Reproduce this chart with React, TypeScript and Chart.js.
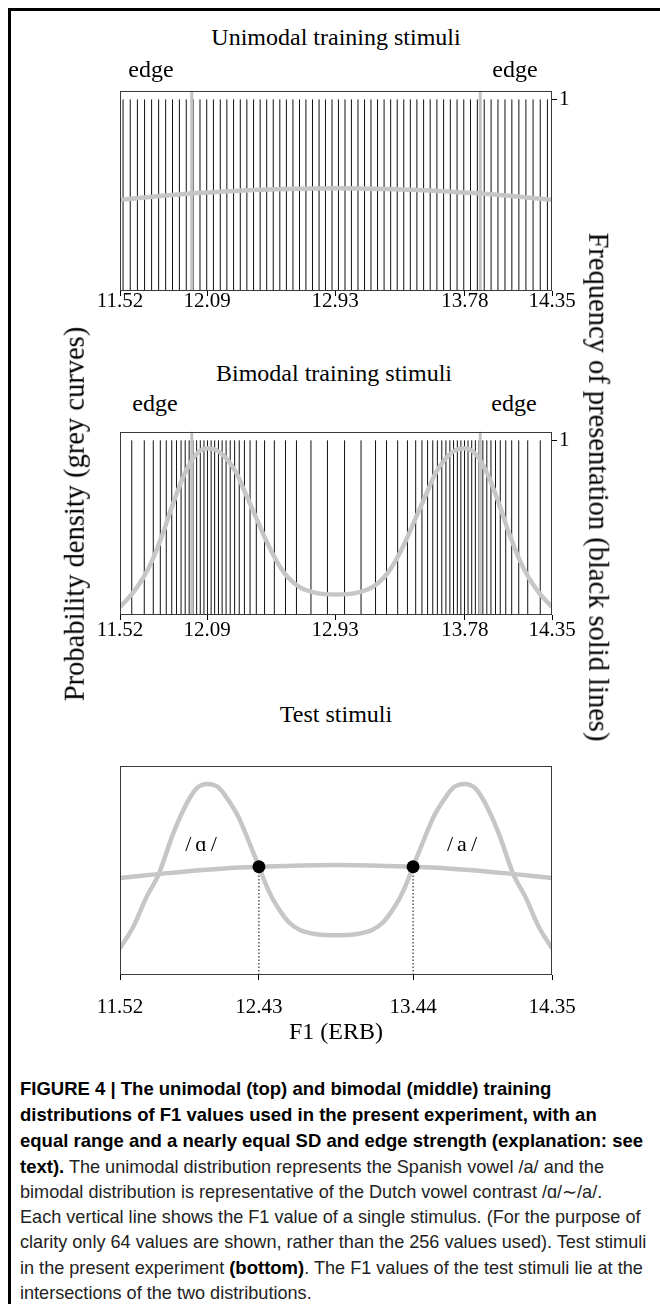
import React, { useEffect, useRef } from "react";
import { Chart, registerables } from "chart.js";

Chart.register(...registerables);

// ---------- data ----------
const X_MIN = 11.52;
const X_MAX = 14.35;
const trainingTicks = [11.52, 12.09, 12.93, 13.78, 14.35];
const trainingTickLabels = ["11.52", "12.09", "12.93", "13.78", "14.35"];
const testTicks = [11.52, 12.43, 13.44, 14.35];
const testTickLabels = ["11.52", "12.43", "13.44", "14.35"];
const frequencyTicks = [1];
const frequencyTickLabels = ["1"];
const edgeValues = [11.99, 13.88];

const unimodalStimuli = [
  11.54, 11.587, 11.634, 11.681, 11.727, 11.773, 11.819, 11.864, 11.909, 11.954, 11.999, 12.044, 12.088, 12.132, 12.177, 12.22,
  12.264, 12.308, 12.351, 12.395, 12.438, 12.481, 12.524, 12.567, 12.61, 12.653, 12.696, 12.738, 12.781, 12.824, 12.866, 12.909,
  12.951, 12.994, 13.036, 13.079, 13.122, 13.164, 13.207, 13.25, 13.293, 13.336, 13.379, 13.422, 13.465, 13.509, 13.552, 13.596,
  13.64, 13.684, 13.728, 13.772, 13.816, 13.861, 13.906, 13.951, 13.996, 14.042, 14.087, 14.133, 14.179, 14.226, 14.273, 14.32,
];

const bimodalStimuli = [
  11.597, 11.679, 11.738, 11.784, 11.823, 11.859, 11.89, 11.92, 11.947, 11.973, 11.998, 12.022, 12.046, 12.07, 12.093, 12.117,
  12.14, 12.165, 12.189, 12.215, 12.242, 12.271, 12.301, 12.335, 12.372, 12.413, 12.467, 12.531, 12.604, 12.676, 12.771, 12.879,
  12.991, 13.099, 13.194, 13.266, 13.339, 13.403, 13.457, 13.498, 13.535, 13.569, 13.599, 13.628, 13.655, 13.681, 13.705, 13.73,
  13.753, 13.777, 13.8, 13.824, 13.848, 13.872, 13.897, 13.923, 13.95, 13.98, 14.011, 14.047, 14.086, 14.132, 14.191, 14.273,
];

const uniCurveX = [11.52, 11.8, 12.0, 12.2, 12.4, 12.6, 12.935, 13.27, 13.47, 13.67, 13.87, 14.07, 14.35];
const uniCurveY = [0.476, 0.497, 0.51, 0.519, 0.527, 0.532, 0.536, 0.532, 0.527, 0.519, 0.51, 0.497, 0.476];

const biCurveX = [
  11.52, 11.599, 11.673, 11.738, 11.804, 11.869, 11.935, 11.99, 12.044, 12.098, 12.153, 12.219, 12.284, 12.35, 12.416, 12.481,
  12.547, 12.612, 12.699, 12.809, 12.935, 13.061, 13.171, 13.258, 13.323, 13.389, 13.454, 13.52, 13.586, 13.651, 13.717, 13.772,
  13.826, 13.88, 13.935, 14.001, 14.066, 14.132, 14.197, 14.271, 14.35,
];
const biCurveY = [
  0.046, 0.121, 0.214, 0.326, 0.475, 0.642, 0.792, 0.885, 0.94, 0.955, 0.944, 0.894, 0.81, 0.68, 0.549, 0.419,
  0.307, 0.223, 0.158, 0.125, 0.117, 0.125, 0.158, 0.223, 0.307, 0.419, 0.549, 0.68, 0.81, 0.894, 0.944, 0.955,
  0.94, 0.885, 0.792, 0.642, 0.475, 0.326, 0.214, 0.121, 0.046,
];

const testUniCurveX = [11.52, 11.8, 12.0, 12.2, 12.43, 12.6, 12.935, 13.27, 13.44, 13.67, 13.87, 14.07, 14.35];
const testUniCurveY = [0.464, 0.485, 0.499, 0.51, 0.518, 0.522, 0.526, 0.522, 0.518, 0.51, 0.499, 0.485, 0.464];

const testBiCurveX = [
  11.52, 11.607, 11.695, 11.771, 11.869, 11.957, 12.022, 12.092, 12.164, 12.229, 12.295, 12.36, 12.43, 12.491, 12.557, 12.623,
  12.699, 12.809, 12.935, 13.061, 13.171, 13.247, 13.313, 13.379, 13.44, 13.51, 13.575, 13.641, 13.706, 13.778, 13.848, 13.913,
  14.001, 14.099, 14.175, 14.263, 14.35,
];
const testBiCurveY = [
  0.128, 0.231, 0.375, 0.478, 0.678, 0.821, 0.893, 0.914, 0.898, 0.837, 0.757, 0.646, 0.518, 0.407, 0.319, 0.255,
  0.215, 0.195, 0.19, 0.195, 0.215, 0.255, 0.319, 0.407, 0.518, 0.646, 0.757, 0.837, 0.898, 0.914, 0.893, 0.821,
  0.678, 0.478, 0.375, 0.231, 0.128,
];

const testStimuli = [12.43, 13.44];
const testStimuliDensity = [0.518, 0.518];

// ---------- helpers ----------
const SERIF = "'Liberation Serif', 'Times New Roman', serif";
const CURVE_GREY = "#c6c6c6";
const EDGE_GREY = "#c2c2c2";

const toPoints = (xs: number[], ys: number[]) => xs.map((x, i) => ({ x, y: ys[i] }));
const verticals = (xs: number[], tops: number[]) =>
  xs.flatMap((x, i) => [
    { x, y: 0 },
    { x, y: tops[i] },
    { x, y: null as any },
  ]);

const framePlugin = {
  id: "frame",
  afterDatasetsDraw(chart: any) {
    const { ctx, chartArea: a } = chart;
    ctx.save();
    ctx.strokeStyle = "#3a3a3a";
    ctx.lineWidth = 1;
    ctx.strokeRect(Math.round(a.left) + 0.5, Math.round(a.top) + 0.5, Math.round(a.right - a.left) - 1, Math.round(a.bottom - a.top) - 1);
    ctx.restore();
  },
};

const CANVAS_W = 660;
const PLOT_LEFT = 120;
const PLOT_RIGHT = 552;
const X_AXIS_H = 50;
const Y_AXIS_W = 28;

type PlotSpec = {
  chartTop: number;
  chartBottom: number;
  yMax: number;
  ticks: number[];
  tickLabels: string[];
  labelPadding: number;
  showFrequency: boolean;
  datasets: any[];
};

function buildConfig(spec: PlotSpec) {
  const rightAxisW = spec.showFrequency ? Y_AXIS_W : 0;
  return {
    type: "line" as const,
    data: { datasets: spec.datasets },
    plugins: [framePlugin],
    options: {
      animation: false as const,
      responsive: false,
      devicePixelRatio: 1,
      events: [],
      layout: {
        padding: { left: PLOT_LEFT, right: CANVAS_W - PLOT_RIGHT - rightAxisW, top: 10, bottom: 10 },
      },
      plugins: { legend: { display: false }, tooltip: { enabled: false }, title: { display: false } },
      scales: {
        x: {
          type: "linear" as const,
          min: X_MIN,
          max: X_MAX,
          position: "bottom" as const,
          afterBuildTicks: (s: any) => {
            s.ticks = spec.ticks.map((v) => ({ value: v }));
          },
          afterFit: (s: any) => {
            s.height = X_AXIS_H;
          },
          ticks: {
            autoSkip: false,
            maxRotation: 0,
            padding: spec.labelPadding,
            color: "#000",
            font: { family: SERIF, size: 21 },
            callback: (_v: any, i: number) => spec.tickLabels[i],
          },
          grid: { drawOnChartArea: false, drawTicks: true, tickLength: 5, color: "#000", lineWidth: 1 },
          border: { display: false },
        },
        y: {
          type: "linear" as const,
          display: spec.showFrequency,
          position: "right" as const,
          min: 0,
          max: spec.yMax,
          afterBuildTicks: (s: any) => {
            s.ticks = frequencyTicks.map((v) => ({ value: v }));
          },
          afterFit: (s: any) => {
            s.width = spec.showFrequency ? Y_AXIS_W : 0;
          },
          ticks: {
            padding: 2,
            color: "#000",
            font: { family: SERIF, size: 21 },
            callback: (_v: any, i: number) => frequencyTickLabels[i],
          },
          grid: { drawOnChartArea: false, drawTicks: true, tickLength: 5, color: "#000", lineWidth: 1 },
          border: { display: false },
        },
      },
    },
  };
}

function Plot({ spec }: { spec: PlotSpec }) {
  const ref = useRef<HTMLCanvasElement>(null);
  const top = spec.chartTop - 10;
  const height = spec.chartBottom - spec.chartTop + 10 + X_AXIS_H + 10;
  useEffect(() => {
    const chart = new Chart(ref.current as HTMLCanvasElement, buildConfig(spec) as any);
    return () => chart.destroy();
  }, []);
  return (
    <canvas
      ref={ref}
      width={CANVAS_W}
      height={height}
      style={{ position: "absolute", left: 0, top, width: CANVAS_W, height }}
    />
  );
}

function curveDataset(xs: number[], ys: number[]) {
  return {
    data: toPoints(xs, ys),
    borderColor: CURVE_GREY,
    borderWidth: 4.5,
    pointRadius: 0,
    cubicInterpolationMode: "monotone",
    fill: false,
  };
}

function edgeDataset(yMax: number) {
  return {
    data: verticals(edgeValues, edgeValues.map(() => yMax)),
    borderColor: EDGE_GREY,
    borderWidth: 3,
    pointRadius: 0,
    spanGaps: false,
    tension: 0,
  };
}

function stimulusDataset(values: number[]) {
  return {
    data: verticals(values, values.map(() => 1)),
    borderColor: "#111",
    borderWidth: 1,
    pointRadius: 0,
    spanGaps: false,
    tension: 0,
  };
}

const Y_MAX_1 = 1.046;
const Y_MAX_2 = 1.05;

const plot1: PlotSpec = {
  chartTop: 86,
  chartBottom: 291,
  yMax: Y_MAX_1,
  ticks: trainingTicks,
  tickLabels: trainingTickLabels,
  labelPadding: -7,
  showFrequency: true,
  datasets: [curveDataset(uniCurveX, uniCurveY), edgeDataset(Y_MAX_1), stimulusDataset(unimodalStimuli)],
};

const plot2: PlotSpec = {
  chartTop: 427,
  chartBottom: 615,
  yMax: Y_MAX_2,
  ticks: trainingTicks,
  tickLabels: trainingTickLabels,
  labelPadding: -2,
  showFrequency: true,
  datasets: [curveDataset(biCurveX, biCurveY), edgeDataset(Y_MAX_2), stimulusDataset(bimodalStimuli)],
};

const plot3: PlotSpec = {
  chartTop: 766,
  chartBottom: 975,
  yMax: 1,
  ticks: testTicks,
  tickLabels: testTickLabels,
  labelPadding: 15,
  showFrequency: false,
  datasets: [
    {
      data: toPoints(testStimuli, testStimuliDensity),
      showLine: false,
      pointRadius: 6.5,
      pointBackgroundColor: "#000",
      pointBorderWidth: 0,
      pointBorderColor: "#000",
    },
    curveDataset(testUniCurveX, testUniCurveY),
    curveDataset(testBiCurveX, testBiCurveY),
    {
      data: verticals(testStimuli, testStimuliDensity),
      borderColor: "#000",
      borderWidth: 1,
      borderDash: [1.5, 2],
      pointRadius: 0,
      spanGaps: false,
      tension: 0,
    },
  ],
};

// ---------- text helpers ----------
function Text({
  x,
  baseline,
  size,
  children,
}: {
  x: number;
  baseline: number;
  size: number;
  children: React.ReactNode;
}) {
  const top = baseline - 0.8375 * size;
  return (
    <div
      style={{
        position: "absolute",
        left: x,
        top,
        transform: "translateX(-50%)",
        fontFamily: SERIF,
        fontSize: size,
        lineHeight: `${size}px`,
        whiteSpace: "nowrap",
        color: "#000",
      }}
    >
      {children}
    </div>
  );
}

function VText({ cx, cy, size, angle, children }: { cx: number; cy: number; size: number; angle: number; children: React.ReactNode }) {
  return (
    <div
      style={{
        position: "absolute",
        left: cx,
        top: cy,
        transform: `translate(-50%, -50%) rotate(${angle}deg)`,
        fontFamily: SERIF,
        fontSize: size,
        lineHeight: `${size}px`,
        whiteSpace: "nowrap",
        color: "#000",
      }}
    >
      {children}
    </div>
  );
}

const captionStyle: React.CSSProperties = {
  position: "absolute",
  left: 20,
  top: 1076,
  fontFamily: "'Liberation Sans', Arial, sans-serif",
  fontSize: 18.1,
  lineHeight: "25px",
  color: "#222",
  whiteSpace: "nowrap",
};
const boldStyle: React.CSSProperties = { color: "#000", fontSize: 18.5 };

export default function App() {
  return (
    <div style={{ position: "absolute", left: 0, top: 0, width: 660, height: 1304, background: "#fff", overflow: "hidden" }}>
      <div
        style={{
          position: "absolute",
          left: 8,
          top: 8,
          width: 660,
          height: 1304,
          borderTop: "3px solid #000",
          borderLeft: "3px solid #000",
          boxSizing: "border-box",
        }}
      />
      <Plot spec={plot1} />
      <Plot spec={plot2} />
      <Plot spec={plot3} />

      <Text x={336} baseline={45} size={24}>Unimodal training stimuli</Text>
      <Text x={151} baseline={77} size={24}>edge</Text>
      <Text x={515} baseline={77} size={24}>edge</Text>

      <Text x={334} baseline={381} size={24}>Bimodal training stimuli</Text>
      <Text x={155} baseline={411} size={24}>edge</Text>
      <Text x={514} baseline={411} size={24}>edge</Text>

      <Text x={336} baseline={722} size={24}>Test stimuli</Text>
      <Text x={203} baseline={851} size={22}>
        <span style={{ letterSpacing: 4 }}>/ɑ/</span>
      </Text>
      <Text x={464} baseline={851} size={22}>
        <span style={{ letterSpacing: 4 }}>/a/</span>
      </Text>
      <Text x={336} baseline={1039} size={24}>F1 (ERB)</Text>

      <VText cx={75} cy={514} size={28.5} angle={-90}>Probability density (grey curves)</VText>
      <VText cx={598} cy={487} size={28.5} angle={90}>Frequency of presentation (black solid lines)</VText>

      <div style={captionStyle}>
        <b style={boldStyle}>FIGURE 4 | The unimodal (top) and bimodal (middle) training</b>
        <br />
        <b style={boldStyle}>distributions of F1 values used in the present experiment, with an</b>
        <br />
        <b style={boldStyle}>equal range and a nearly equal SD and edge strength (explanation: see</b>
        <br />
        <b style={boldStyle}>text).</b> The unimodal distribution represents the Spanish vowel /a/ and the
        <br />
        bimodal distribution is representative of the Dutch vowel contrast /ɑ/∼/a/.
        <br />
        Each vertical line shows the F1 value of a single stimulus. (For the purpose of
        <br />
        clarity only 64 values are shown, rather than the 256 values used). Test stimuli
        <br />
        in the present experiment <b style={boldStyle}>(bottom)</b>. The F1 values of the test stimuli lie at the
        <br />
        intersections of the two distributions.
      </div>
    </div>
  );
}
